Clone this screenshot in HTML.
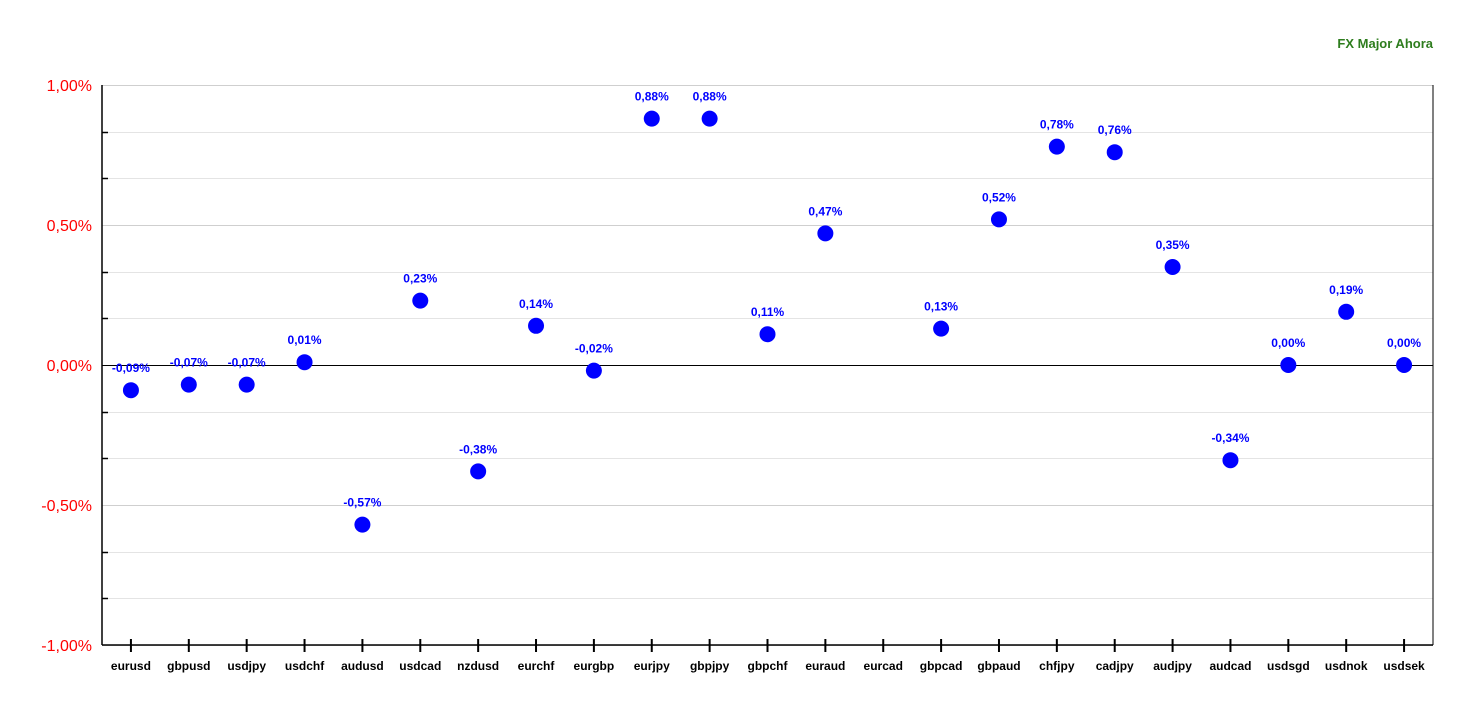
<!DOCTYPE html>
<html><head><meta charset="utf-8"><style>
body{margin:0;background:#fff;}
svg{display:block;font-family:"Liberation Sans",Arial,sans-serif;}
</style></head><body>
<svg id="chart" width="1468" height="707">
<text x="1433" y="48" text-anchor="end" font-size="13" font-weight="bold" fill="#2e7d1e">FX Major Ahora</text>
<g id="grid"></g><g id="axes"></g><g id="marks"></g>
</svg>
<script>
const categories=["eurusd","gbpusd","usdjpy","usdchf","audusd","usdcad","nzdusd","eurchf","eurgbp","eurjpy","gbpjpy","gbpchf","euraud","eurcad","gbpcad","gbpaud","chfjpy","cadjpy","audjpy","audcad","usdsgd","usdnok","usdsek"];
const values=[-0.09,-0.07,-0.07,0.01,-0.57,0.23,-0.38,0.14,-0.02,0.88,0.88,0.11,0.47,null,0.13,0.52,0.78,0.76,0.35,-0.34,0.00,0.19,0.00];
const yTicks=[1,0.5,0,-0.5,-1];
const yTickLabels=["1,00%","0,50%","0,00%","-0,50%","-1,00%"];
const L=102,R=1433,T=85,B=645,ymin=-1,ymax=1;
const ns="http://www.w3.org/2000/svg";
function y(v){return B-(v-ymin)/(ymax-ymin)*(B-T);}
const step=(R-L)/categories.length;
function x(i){return L+step*(i+0.5);}
function mk(parent,tag,attrs){const e=document.createElementNS(ns,tag);for(const k in attrs)e.setAttribute(k,attrs[k]);document.getElementById(parent).appendChild(e);return e;}
function fmt(v){return v.toFixed(2).replace('.',',')+'%';}
// minor grid every 1/6
for(let k=0;k<=12;k++){
 const v=ymin+k*(ymax-ymin)/12;const yy=Math.round(y(v))+0.5;
 const major=k%3===0;
 const g=mk('grid','line',{x1:L,x2:R,y1:yy,y2:yy,stroke:major?'#cfcfcf':'#e4e4e4','stroke-width':1});
 
 
 if(!major){const t=mk('axes','line',{x1:L,x2:L+6,y1:yy,y2:yy,stroke:'#000','stroke-width':1.5});
  
  }
}
yTicks.forEach((v,i)=>{
 const t=mk('axes','text',{x:92,y:y(v)+6,'text-anchor':'end','font-size':16,fill:'#ff0000'});
 t.textContent=yTickLabels[i];
 
 
});
const z=mk('axes','line',{x1:L,x2:R,y1:Math.round(y(0))+0.5,y2:Math.round(y(0))+0.5,stroke:'#000','stroke-width':1});


const ya=mk('axes','line',{x1:L,x2:L,y1:T,y2:B,stroke:'#000','stroke-width':1.5});


const rb=mk('axes','line',{x1:R,x2:R,y1:T,y2:B,stroke:'#000','stroke-width':1});


const xa=mk('axes','line',{x1:L,x2:R,y1:B,y2:B,stroke:'#000','stroke-width':1.5});


categories.forEach((c,i)=>{
 const t=mk('axes','line',{x1:x(i),x2:x(i),y1:B-6,y2:B+7,stroke:'#000','stroke-width':2});
 
 
 const l=mk('axes','text',{x:x(i),y:670,'text-anchor':'middle','font-size':12,'font-weight':'bold',fill:'#000'});
 l.textContent=c;
 
 
 const v=values[i];if(v===null)return;
 const p=mk('marks','circle',{cx:x(i),cy:y(v),r:8,fill:'#0000ff'});
 
 
 const lb=mk('marks','text',{x:x(i),y:y(v)-18,'text-anchor':'middle','font-size':12,'font-weight':'bold',fill:'#0000ff'});
 lb.textContent=fmt(v);
 
 
});
</script>
</body></html>
